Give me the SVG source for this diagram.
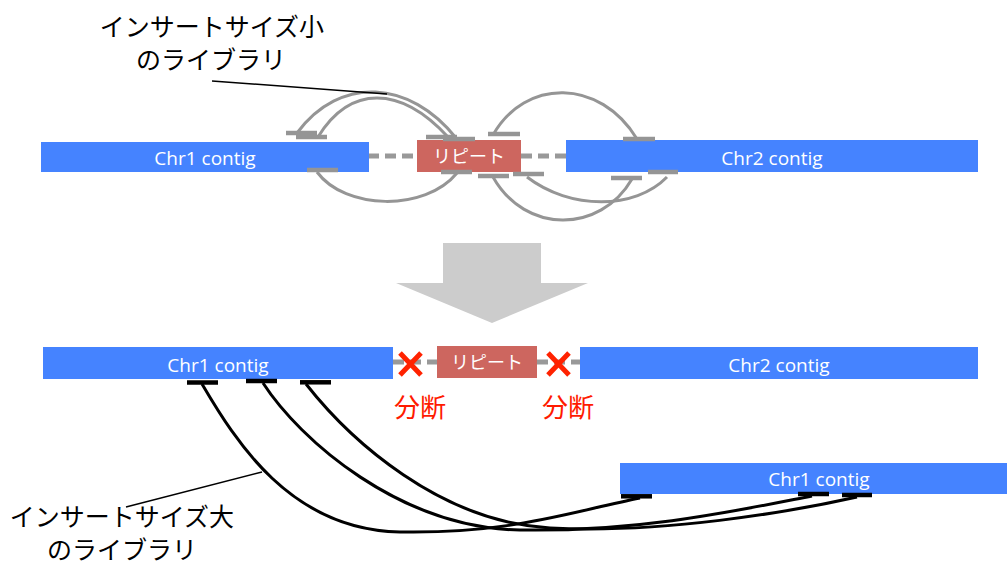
<svg xmlns="http://www.w3.org/2000/svg" width="1007" height="565" viewBox="0 0 1007 565">
<style>
.contig{fill:#4583FF}
.rep{fill:#CD665F}
.ct{font-family:"Open Sans","Liberation Sans",sans-serif;font-size:19px;fill:#fff;text-anchor:middle}
.rt{font-family:"Noto Sans CJK JP",sans-serif;font-size:18px;fill:#fff;text-anchor:middle}
.jt{font-family:"Noto Sans CJK JP",sans-serif;font-size:25px;fill:#000;text-anchor:middle}
.red{font-family:"Noto Sans CJK JP",sans-serif;font-size:26px;fill:#FF1A00;text-anchor:middle}
.dash{stroke:#999;stroke-width:5;stroke-dasharray:11,6;fill:none}
.gbar{stroke:#959595;stroke-width:4.5;fill:none}
.gcurve{stroke:#959595;stroke-width:3;fill:none}
.bbar{stroke:#000;stroke-width:4.5;fill:none}
.bcurve{stroke:#000;stroke-width:3;fill:none}
.lead{stroke:#000;stroke-width:1.5;fill:none}
.x{stroke:#FF2200;stroke-width:5;fill:none}
</style>
<rect width="1007" height="565" fill="#fff"/>

<g id="connectors">
  <line class="dash" x1="368" y1="156" x2="417" y2="156"/>
  <line class="dash" x1="521" y1="156" x2="566" y2="156"/>
  <path class="gcurve" d="M297,133 C340,75 410,80 456,138"/>
  <path class="gcurve" d="M318,137 C350,85 400,85 448,137"/>
  <path class="gcurve" d="M493,135 C525,78 600,78 637,139"/>
  <path class="gcurve" d="M317,172 C345,210 425,212 457,173"/>
  <path class="gcurve" d="M493,177 C525,234 600,234 632,179"/>
  <path class="gcurve" d="M527,177 C570,210 635,210 667,177"/>
  <line class="dash" x1="393" y1="362" x2="437" y2="362"/>
  <line class="dash" x1="537" y1="362" x2="581" y2="362"/>
  <path class="bcurve" d="M202,384 C235,440 290,530 400,532 S570,512 640,498"/>
  <path class="bcurve" d="M263,383 C300,440 400,528 520,530 S740,510 812,496"/>
  <path class="bcurve" d="M306,384 C350,440 440,522 550,528 S790,512 857,497"/>
  <line class="lead" x1="212" y1="81" x2="387" y2="94"/>
  <line class="lead" x1="126" y1="507" x2="262" y2="472"/>
</g>

<g id="top-chr1">
  <rect class="contig" x="41" y="142" width="328" height="30"/>
  <text class="ct" x="205" y="165">Chr1 contig</text>
</g>
<g id="top-repeat">
  <rect class="rep" x="417" y="140" width="104" height="32"/>
  <text class="rt" x="469" y="163">リピート</text>
</g>
<g id="top-chr2">
  <rect class="contig" x="566" y="140" width="412" height="32"/>
  <text class="ct" x="772" y="165">Chr2 contig</text>
</g>

<g id="top-reads">
  <line class="gbar" x1="286" y1="133" x2="317" y2="133"/>
  <line class="gbar" x1="296" y1="137" x2="327" y2="137"/>
  <line class="gbar" x1="426" y1="137" x2="457" y2="137"/>
  <line class="gbar" x1="443" y1="139" x2="475" y2="139"/>
  <line class="gbar" x1="488" y1="134" x2="520" y2="134"/>
  <line class="gbar" x1="623" y1="139" x2="655" y2="139"/>
  <line class="gbar" x1="307" y1="170" x2="338" y2="170"/>
  <line class="gbar" x1="441" y1="172" x2="472" y2="172"/>
  <line class="gbar" x1="478" y1="176" x2="509" y2="176"/>
  <line class="gbar" x1="513" y1="174" x2="544" y2="174"/>
  <line class="gbar" x1="611" y1="178" x2="642" y2="178"/>
  <line class="gbar" x1="648" y1="172" x2="678" y2="172"/>
</g>

<g id="top-label">
  <text class="jt" x="212" y="36">インサートサイズ小</text>
  <text class="jt" x="211" y="69">のライブラリ</text>
</g>

<g id="arrow">
  <polygon points="443,243 541,243 541,283 588,283 492,323 396,283 443,283" fill="#CCCCCC"/>
</g>

<g id="bottom-chr1">
  <rect class="contig" x="43" y="347" width="350" height="32"/>
  <text class="ct" x="218" y="372">Chr1 contig</text>
</g>
<g id="bottom-repeat">
  <rect class="rep" x="437" y="346" width="100" height="32"/>
  <text class="rt" x="487" y="369">リピート</text>
</g>
<g id="bottom-chr2">
  <rect class="contig" x="580" y="347" width="398" height="32"/>
  <text class="ct" x="779" y="372">Chr2 contig</text>
</g>
<g id="break1">
  <path class="x" d="M400,353 L421,375 M421,353 L400,375"/>
  <text class="red" x="420" y="417">分断</text>
</g>
<g id="break2">
  <path class="x" d="M548,353 L569,375 M569,353 L548,375"/>
  <text class="red" x="568" y="417">分断</text>
</g>

<g id="lower-chr1">
  <rect class="contig" x="620" y="463" width="387" height="31"/>
  <text class="ct" x="819" y="486">Chr1 contig</text>
</g>

<g id="bottom-reads">
  <line class="bbar" x1="187" y1="382.5" x2="218" y2="382.5"/>
  <line class="bbar" x1="246" y1="381" x2="277" y2="381"/>
  <line class="bbar" x1="300" y1="382.3" x2="331" y2="382.3"/>
  <line class="bbar" x1="621" y1="496.3" x2="652" y2="496.3"/>
  <line class="bbar" x1="798" y1="494" x2="829" y2="494"/>
  <line class="bbar" x1="842" y1="495" x2="872" y2="495"/>
</g>

<g id="bottom-label">
  <text class="jt" x="122" y="526">インサートサイズ大</text>
  <text class="jt" x="122" y="559">のライブラリ</text>
</g>
</svg>
